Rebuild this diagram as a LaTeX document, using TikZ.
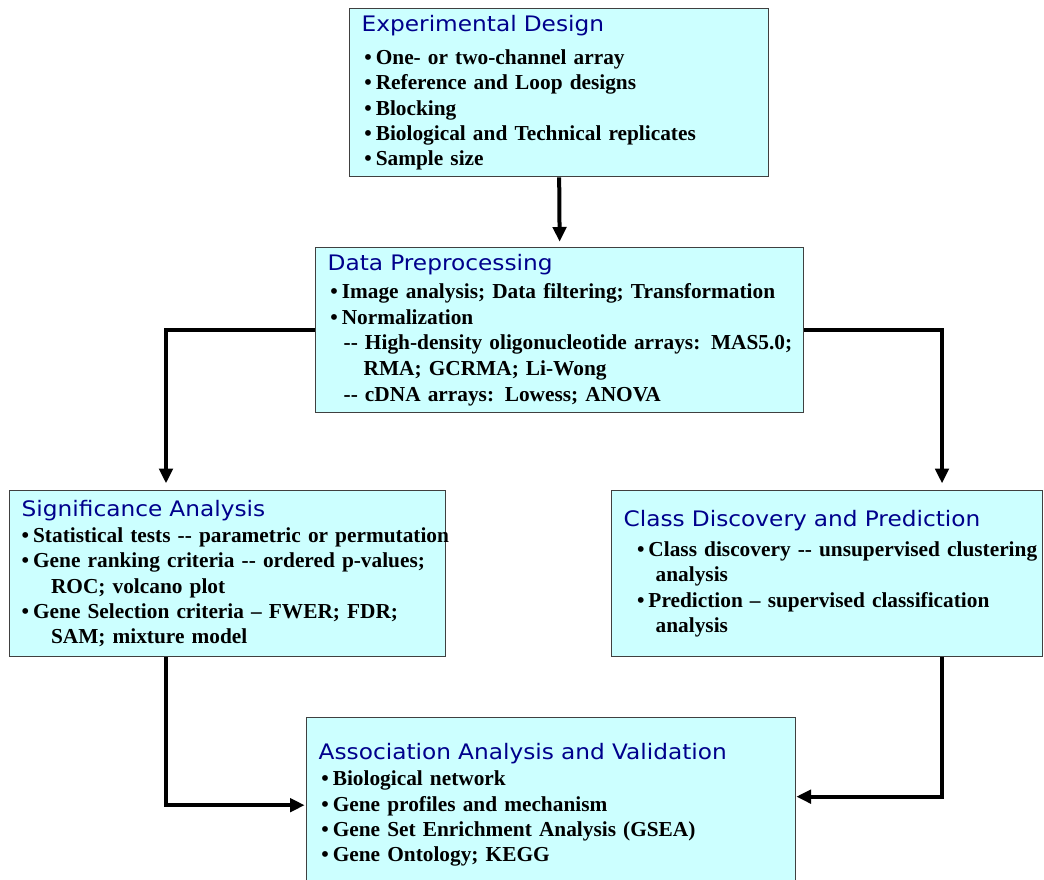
\documentclass[tikz,border=0pt]{standalone}
\usepackage{fontspec}
\setmainfont{Liberation Serif}
\newfontfamily\titlefont[FakeStretch=1.09]{DejaVu Sans}
\usetikzlibrary{arrows.meta,positioning,calc}

\definecolor{boxfill}{HTML}{CCFFFF}
\definecolor{titleblue}{HTML}{00008C}
\definecolor{boxline}{HTML}{404040}

\newcommand{\itm}[2][2pt]{\mbox{\hspace*{#1}\textbullet\hspace{3pt}#2}}
\newcommand{\cont}[2][22pt]{\mbox{\hspace*{#1}#2}}
\newcommand{\boxtitle}[1]{{\titlefont\mdseries\fontsize{16pt}{19pt}\selectfont\color{titleblue}#1}}

\begin{document}
\begin{tikzpicture}[x=0.75pt,y=-0.75pt,>={Triangle[length=11pt,width=10pt]}]
  \tikzstyle{box}=[draw=boxline,line width=1pt,fill=boxfill,anchor=north west,inner xsep=9pt,inner ysep=0pt,align=left,font=\fontsize{16pt}{19pt}\selectfont\bfseries]
  \tikzstyle{flow}=[line width=3pt,->]
  \useasboundingbox[fill=white] (0,0) rectangle (1044,879);

  \node[box,text width=296.25pt,minimum height=126pt] (design) at (349,8) {%
    \boxtitle{Experimental Design}\\[6pt]
    \itm{One- or two-channel array}\\
    \itm{Reference and Loop designs}\\
    \itm{Blocking}\\
    \itm{Biological and Technical replicates}\\
    \itm{Sample size}};
  \node[box,text width=348pt,minimum height=123.75pt] (prep) at (315,247) {%
    \boxtitle{Data Preprocessing}\\[1.8pt]
    \itm{Image analysis; Data filtering; Transformation}\\[0.3pt]
    \itm{Normalization}\\[0.3pt]
    \cont[12pt]{-{}- High-density oligonucleotide arrays: MAS5.0;}\\[0.3pt]
    \cont[27pt]{RMA; GCRMA; Li-Wong}\\[0.3pt]
    \cont[12pt]{-{}- cDNA arrays: Lowess; ANOVA}};
  \node[box,text width=309pt,minimum height=124.5pt] (signif) at (9,490) {%
    \boxtitle{Significance Analysis}\\[0.5pt]
    \itm[0pt]{Statistical tests -{}- parametric or permutation}\\
    \itm[0pt]{Gene ranking criteria -{}- ordered p-values;}\\
    \cont{ROC; volcano plot}\\
    \itm[0pt]{Gene Selection criteria \textendash{} FWER; FDR;}\\
    \cont{SAM; mixture model}};
  \node[box,text width=305.25pt,minimum height=124.5pt] (classd) at (611,490) {%
    \boxtitle{Class Discovery and Prediction}\\[3.5pt]
    \itm[10pt]{Class discovery -{}- unsupervised clustering}\\
    \cont[24pt]{analysis}\\
    \itm[10pt]{Prediction \textendash{} supervised classification}\\
    \cont[24pt]{analysis}};
  \node[box,text width=348.75pt,minimum height=131.25pt] (assoc) at (306,717) {%
    \boxtitle{Association Analysis and Validation}\\[0.5pt]
    \itm{Biological network}\\
    \itm{Gene profiles and mechanism}\\
    \itm{Gene Set Enrichment Analysis (GSEA)}\\
    \itm{Gene Ontology; KEGG}};

  % side columns of the flow
  \coordinate (lcol) at (166,329);
  \coordinate (rcol) at (942,329);

  \draw[flow,shorten >=4pt] (design.south) -- (prep.north);
  \draw[flow,shorten >=5pt] (prep.west) -| (lcol |- signif.north);
  \draw[flow,shorten >=5pt] (prep.east) -| (rcol |- classd.north);
  \draw[flow,shorten >=1pt] (lcol |- signif.south) |- (assoc.west);
  \draw[flow] (rcol |- classd.south) |- ([yshift=6.4pt]assoc.east);
\end{tikzpicture}
\end{document}
